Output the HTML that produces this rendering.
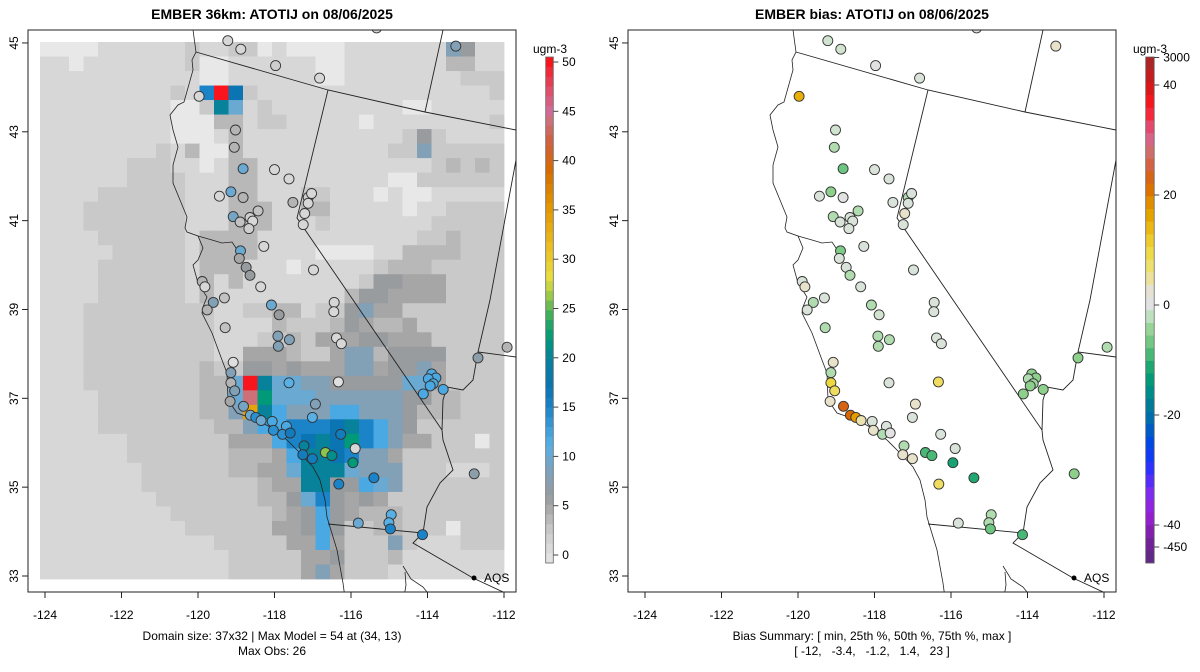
<!DOCTYPE html>
<html><head><meta charset="utf-8"><style>
html,body{margin:0;padding:0;background:#fff;}
svg{display:block;font-family:"Liberation Sans",Arial,sans-serif;}
</style></head><body>
<svg id="fig" width="1200" height="672" viewBox="0 0 1200 672" xmlns="http://www.w3.org/2000/svg">
<rect x="0" y="0" width="1200" height="672" fill="#fff"/>
<g id="left"></g>
<g id="right" transform="translate(600,0)"></g>
</svg>
<script>
// ---- data ----
const gridRows = [
"aaaabbbbbbcbbccabaaaabbbbbbbgfbb",
"bbabbbbbbbcaabbbbbbaabbbbbbbddbb",
"bbbbbbbbbbbaabbbbbbaabbbbbbbbccc",
"bbbbbbbbbcbjrkcbbbbbbbbbbbbbbbbc",
"bbbbbbbbbaaclhbcbbbbbbbbbaabbbbb",
"bbbbbbbbbaaaddbccbbbbbabbbbbbbbc",
"bbbbbbbbbaaabdbbbbbbbbbbbcfcbbbb",
"bbbbbbbbcbdaadbbbbbbbbbbccgccccc",
"bbbbbbcccbbabddbbbbbbbbbbbbcdcdc",
"bbbbbbccccbbbddbbbbbbbbbaacccccc",
"bbbbccccccbbbddbbbccbbbabaabbbbb",
"bbbcccccccbbbdddbbddbbbbbabbcccc",
"bbbcccccccbbbdddbbbcbbbbbbbccccc",
"bbbbccccccbddddbbbbbbbbbbbccdccc",
"bbbbbcccccbddddbbbbaaaabbddddccc",
"bbbbccccccbdddbbbabbbbbcdddccccc",
"bbbbccccccbdbdbbbbbbbbcffeeecccc",
"bbbbccccccbdbbbbbbbbbdffeeeecccc",
"bbbcccccccccbbccddbccfgeeccccccc",
"bbbcccccccccbbbbdcccdfeddecccccc",
"bbbcccccccccbbbccdceeeffeeeccccc",
"bbbcccccccccbbeeedcceggdffffcccc",
"bbbccccccccdccffefeeeggeffgecccc",
"bbbccccccccddhrlhhggfffffhhecccc",
"bbbbcccccccddhpmhhhggggggffddccc",
"bbbbcccccccddgyligggiigggfdddccc",
"bbbbccccccccddgiijjjkljigfcccccc",
"bbbbbbccccccceeeijklkmjigeecccac",
"bbbbbbcccccccdddeillkjggeccccccc",
"bbbbbbbccccccddeehlllhgggcccbbbc",
"bbbbbbbccccccccdeellffihgccccccc",
"bbbbbbbbcccccccddfhjfefecccccccc",
"bbbbbbbbbcccccccdefifedddccccccc",
"bbbbbbbbbbcccccceefifccddcccaccc",
"bbbbbbbbbbbbccccceeiecccgcbbbccc",
"bbbbbbbbbbbbbccccceefcccdbbbbbbb",
"bbbbbbbbbbbbbcccccegecccbbbbbbbb"
];
const gridCodes = ["a","b","c","d","e","f","g","h","i","j","k","l","m","y","p","r"];
const gridValues = [-1,1,2.5,3.7,5,6,8,10,12,15,17,20,22,34,44,50];

const stLon = [-119.22,-118.88,-117.97,-116.82,-115.33,-113.26,-119.97,-119.02,-119.05,-118.82,-118.0,-117.62,-119.44,-119.14,-118.82,-118.43,-119.08,-118.90,-118.64,-118.57,-118.67,-117.52,-117.12,-117.03,-117.12,-117.21,-117.25,-118.28,-118.89,-118.92,-118.74,-118.64,-118.36,-116.98,-119.89,-119.82,-119.31,-119.60,-118.08,-116.44,-119.76,-116.45,-117.88,-119.29,-117.91,-117.61,-117.90,-116.38,-116.25,-119.08,-119.14,-119.14,-119.04,-119.16,-118.81,-118.63,-118.49,-118.35,-118.06,-118.03,-117.69,-117.79,-117.59,-117.62,-116.33,-116.93,-117.01,-116.27,-117.23,-117.26,-117.01,-116.67,-116.50,-115.89,-115.95,-115.40,-116.32,-115.81,-114.95,-115.01,-114.97,-114.13,-112.78,-111.92,-112.68,-113.89,-113.78,-113.98,-113.85,-113.93,-113.59,-114.11];
const stLat = [45.05,44.86,44.49,44.21,45.34,44.93,43.80,43.04,42.65,42.17,42.15,41.94,41.55,41.65,41.52,41.22,41.09,40.97,41.07,40.99,40.82,41.41,41.52,41.61,41.39,41.16,40.91,40.42,40.32,40.15,39.95,39.77,39.51,39.89,39.63,39.51,39.26,39.16,39.10,39.16,38.99,38.95,38.88,38.59,38.40,38.32,38.17,38.36,38.23,37.81,37.58,37.35,37.17,36.93,36.82,36.62,36.57,36.50,36.48,36.28,36.37,36.19,36.22,37.35,37.37,36.87,36.57,36.19,35.93,35.73,35.64,35.78,35.71,35.87,35.55,35.21,35.07,34.19,34.38,34.20,34.06,33.93,35.30,38.15,37.91,37.55,37.46,37.44,37.33,37.28,37.20,37.10];
const stObs = [1,1,2,1,1,8,1,4,4,10,1,1,1,10,4,3,9,3,2,1,2,4,2,1,1,1,1,1,10,5,6,6,1,1,4,1,3,8,10,1,4,1,6,3,8,8,8,1,1,0,8,4,8,5,9,10,14,10,12,14,12,14,16,11,0,8,11,16,20,16,16,26,21,1,22,15,15,10,11,11,15,15,7,4,7,12,12,12,12,12,12,12];
const stBias = [-1,-1,0,-0.5,0,3,15,-1,-3,-7,-0.5,-0.5,-0.5,-5,0,-3,-3,-0.5,-0.5,-0.5,-0.5,-0.5,-3,-0.5,-0.5,3,-0.5,-0.5,-6,-0.5,-0.5,-3,-0.5,-0.5,-0.5,3,-0.5,-3,-3,-0.5,-0.5,-0.5,-1,-3,-3,-3,-3,-0.5,-0.5,3,-3,10,8,3,23,22,17,4,-0.5,3,-0.5,-3,0,-0.5,8,3,-0.5,-0.5,-3,3,3,-9,-9,-0.5,-12,-11,8,-0.5,-3,-3,-7,-9,-5,-3,-5,-5,-5,-3,-4,-5,-5,-5];

const lonTicks = [-124,-122,-120,-118,-116,-114,-112];
const latTicks = [33,35,37,39,41,43,45];
const cbTicksL = [0,5,10,15,20,25,30,35,40,45,50];
const cbTicksR = [3000,40,20,0,-20,-40,-450];
const cbTicksRpos = [45,40,20,0,-20,-40,-44];

// ---- scales ----
const X0=45, XPD=38.25, Y0=576, YPD=44.42;
function px(lon){return X0+(lon+124)*XPD;}
function py(lat){return Y0-(lat-33)*YPD;}
function hex(c){return [parseInt(c.substr(1,2),16),parseInt(c.substr(3,2),16),parseInt(c.substr(5,2),16)];}
function interp(stops,v){
  if(v<=stops[0][0])return stops[0][1];
  for(let i=1;i<stops.length;i++){
    if(v<=stops[i][0]){
      const a=stops[i-1],b=stops[i],t=(v-a[0])/(b[0]-a[0]);
      const A=hex(a[1]),B=hex(b[1]);
      return 'rgb('+A.map((x,k)=>Math.round(x+(B[k]-x)*t)).join(',')+')';
    }
  }
  return stops[stops.length-1][1];
}
const stopsL=[[-1,'#e8e8e8'],[0,'#dfdfdf'],[1,'#d7d7d7'],[2.5,'#c9c9c9'],[3.7,'#b8b8b8'],[5,'#a6a6a6'],[6,'#989c9f'],[8,'#82a0b6'],[10,'#6aa9d2'],[11,'#58b0e4'],[12,'#4aa8e2'],[15,'#1b84c8'],[17,'#0b74b2'],[20,'#07829a'],[22,'#009a78'],[24,'#30aa60'],[26,'#8cc44c'],[28,'#e8e040'],[31,'#ebc024'],[35,'#e49a00'],[39,'#d66c00'],[42,'#d06040'],[44,'#cd7078'],[45,'#d06c98'],[47,'#e0506c'],[49,'#f02a3a'],[51,'#ff0000']];
const stopsR=[[-46,'#5e2a84'],[-42,'#7b1fa2'],[-38,'#9b20d8'],[-34,'#7a2cf0'],[-30,'#3030ff'],[-26,'#0040f0'],[-23,'#0058c8'],[-20,'#0070a8'],[-17,'#008490'],[-14,'#009878'],[-11,'#20a870'],[-8,'#5cc07a'],[-5,'#8cd08c'],[-3,'#b0dcb0'],[-1,'#d0e4d0'],[0,'#e2e2e2'],[2,'#e2e2e2'],[4,'#ece2b0'],[7,'#eee070'],[10,'#eed840'],[13,'#ecc020'],[16,'#e6a600'],[19,'#e08a00'],[22,'#da6600'],[25,'#d4603a'],[28,'#cf6e6e'],[31,'#d86090'],[33,'#e84060'],[36,'#ff1820'],[40,'#d41818'],[45,'#a02828']];

// geography outlines (pixel polylines, static basemap)
const coast=[[193,30],[196,52],[192,60],[193,70],[184,102],[178,105],[170,115],[173,130],[178,147],[173,165],[173,183],[180,200],[187,217],[185,228],[187,232],[198,236],[203,248],[198,260],[193,265],[198,283],[207,297],[203,307],[202,313],[212,333],[222,360],[227,373],[228,400],[237,413],[257,420],[270,427],[287,440],[300,453],[313,467],[320,480],[325,500],[327,517],[330,527],[337,550],[343,583],[345,598]];
const bay=[[198,236],[212,240],[222,243],[232,242],[236,248]];
const baja=[[403,566],[411,579],[423,587],[431,597]];
const baja2=[[405,572],[406,585],[404,597]];
const borders=[
 [[196,52],[328,90],[425,112],[516,130]],
 [[328,90],[297,218],[442,430],[443,440],[453,470],[440,483],[427,507],[423,533],[413,543],[473,578],[516,598]],
 [[328,524],[423,533]],
 [[443,30],[425,112]],
 [[516,160],[490,300],[478,352],[516,357]],
 [[478,352],[473,380],[463,390],[447,387],[443,400],[442,430]]
];

const NS='http://www.w3.org/2000/svg';
function mk(parent,tag,attrs,text){
  const e=document.createElementNS(NS,tag);
  for(const k in attrs)e.setAttribute(k,attrs[k]);
  if(text!==undefined)e.textContent=text;
  parent.appendChild(e);return e;
}
function poly(g,pts,w,name){
  const e=mk(g,'polyline',{points:pts.map(p=>p.join(',')).join(' '),fill:'none',stroke:'#222','stroke-width':w});
  
  
}

const FB=592;
function drawPanel(g,isBias){
  if(!isBias){
    const gg=mk(g,'g',{});
    
    
    const gx0=40,gx1=504,gy0=42,gy1=579;
    const nr=gridRows.length,nc=gridRows[0].length,cw=(gx1-gx0)/nc,ch=(gy1-gy0)/nr;
    for(let r=0;r<nr;r++)for(let c=0;c<nc;c++){
      const v=gridValues[gridCodes.indexOf(gridRows[r][c])];
      const cell=mk(gg,'rect',{x:(gx0+c*cw).toFixed(2),y:(gy0+r*ch).toFixed(2),width:(cw+0.4).toFixed(2),height:(ch+0.4).toFixed(2),fill:interp(stopsL,v)});
      
      
    }
  }
  const cl=mk(g,'defs',{});
  const cp=mk(cl,'clipPath',{id:'clip'+(isBias?'R':'L')});
  mk(cp,'rect',{x:28,y:30,width:488,height:FB-30});
  const mg=mk(g,'g',{'clip-path':'url(#clip'+(isBias?'R':'L')+')'});
  
  
  poly(mg,coast,0.8,'coastline');
  poly(mg,bay,0.8,'bay-outline');
  poly(mg,baja,0.8,'baja-coast');
  poly(mg,baja2,0.8,'baja-coast-2');
  borders.forEach(b=>poly(mg,b,0.9,'state-border'));
  const sg=mk(mg,'g',{});
  
  
  for(let i=0;i<stLon.length;i++){
    const col=isBias?interp(stopsR,stBias[i]):interp(stopsL,stObs[i]);
    const c=mk(sg,'circle',{cx:px(stLon[i]).toFixed(1),cy:py(stLat[i]).toFixed(1),r:5,fill:col,stroke:'#333','stroke-width':0.9});
    
    
  }
  const fr=mk(g,'rect',{x:28,y:30,width:488,height:FB-30,fill:'none',stroke:'#222','stroke-width':1});
  
  
  lonTicks.forEach(t=>{
    const x=px(t);
    mk(g,'line',{x1:x,y1:FB,x2:x,y2:FB+6,stroke:'#222'});
    const tl=mk(g,'text',{x:x,y:619,'font-size':12,'text-anchor':'middle',fill:'#000'},String(t));
    
    
  });
  latTicks.forEach(t=>{
    const y=py(t);
    mk(g,'line',{x1:22,y1:y,x2:28,y2:y,stroke:'#222'});
    const tl=mk(g,'text',{x:0,y:0,'font-size':12,'text-anchor':'middle',fill:'#000',transform:'translate(18,'+y+') rotate(-90)'},String(t));
    
    
  });
  const lg=mk(g,'g',{});
  
  
  mk(lg,'circle',{cx:474,cy:578,r:2.5,fill:'#000'});
  mk(lg,'text',{x:484,y:582,'font-size':12,fill:'#000'},'AQS');
  const tt=mk(g,'text',{x:272,y:19,'font-size':14,'font-weight':'bold','text-anchor':'middle',fill:'#000'},isBias?'EMBER bias: ATOTIJ on 08/06/2025':'EMBER 36km: ATOTIJ on 08/06/2025');
  
  
  const c1=mk(g,'text',{x:272,y:640,'font-size':12,'text-anchor':'middle',fill:'#000'},isBias?'Bias Summary: [ min, 25th %, 50th %, 75th %, max ]':'Domain size: 37x32 | Max Model = 54 at (34, 13)');
  
  
  const c2=mk(g,'text',{x:272,y:655,'font-size':12,'text-anchor':'middle',fill:'#000'},isBias?'[ -12,   -3.4,   -1.2,   1.4,   23 ]':'Max Obs: 26');
  
  
  c2.setAttribute('xml:space','preserve');c2.style.whiteSpace='pre';
  const cb=mk(g,'g',{});
  
  
  const bx=545.7, bw=isBias?8.5:7.6, top=57, bot=563;
  const nb=isBias?40:52;
  let vLo,vHi,yOf;
  if(isBias){vLo=-46.9;vHi=45.1;yOf=v=>305-v*5.5;}else{vLo=-0.8;vHi=50.5;yOf=v=>555-v*9.86;}
  for(let i=0;i<nb;i++){
    const v0=vLo+(vHi-vLo)*i/nb,v1=vLo+(vHi-vLo)*(i+1)/nb;
    const b=mk(cb,'rect',{x:bx,y:yOf(v1).toFixed(2),width:bw,height:(yOf(v0)-yOf(v1)+0.3).toFixed(2),fill:interp(isBias?stopsR:stopsL,(v0+v1)/2)});
    
    
  }
  mk(cb,'rect',{x:bx,y:top,width:bw,height:bot-top,fill:'none',stroke:'#666','stroke-width':0.8});
  const ticks=isBias?cbTicksR:cbTicksL;
  ticks.forEach((t,i)=>{
    const y=isBias?yOf(cbTicksRpos[i]):yOf(t);
    mk(cb,'line',{x1:bx+bw,y1:y,x2:bx+bw+5,y2:y,stroke:'#444'});
    const l=mk(cb,'text',{x:bx+bw+9,y:y+4,'font-size':12,fill:'#000'},String(t));
    
    
  });
  const u=mk(cb,'text',{x:550,y:53,'font-size':12,'text-anchor':'middle',fill:'#000'},'ugm-3');
  
  
}
drawPanel(document.getElementById('left'),false);
drawPanel(document.getElementById('right'),true);
</script>
</body></html>
